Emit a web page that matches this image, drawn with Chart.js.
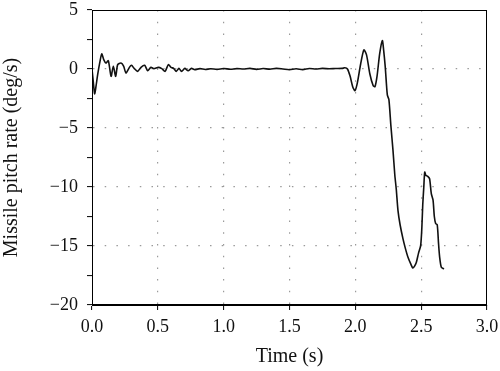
<!DOCTYPE html>
<html><head><meta charset="utf-8">
<script src="https://cdn.jsdelivr.net/npm/chart.js@4.4.1/dist/chart.umd.min.js"></script>
<style>html,body{margin:0;padding:0;background:#fff}canvas{display:block}</style>
</head><body>
<canvas id="c" width="500" height="371"></canvas>
<script>
// Time (s)
const timeS = [
  0, 0.01, 0.02, 0.03, 0.043, 0.06, 0.074, 0.089, 0.106, 0.124, 0.145, 0.162, 0.18, 0.195, 0.22, 0.24, 0.258,
  0.284, 0.30, 0.32, 0.347, 0.372, 0.40, 0.423, 0.448, 0.47, 0.504, 0.53, 0.555, 0.58, 0.60, 0.62, 0.64,
  0.66, 0.68, 0.705, 0.73, 0.755, 0.78, 0.82, 0.86, 0.90, 0.95, 1.0, 1.05, 1.10, 1.15, 1.20, 1.25, 1.30,
  1.35, 1.40, 1.45, 1.50, 1.55, 1.60, 1.65, 1.70, 1.75, 1.80, 1.85, 1.90, 1.92, 1.94, 1.96, 1.98, 1.997,
  2.015, 2.04, 2.065, 2.085, 2.11, 2.135, 2.149, 2.165, 2.185, 2.205, 2.215, 2.227, 2.243, 2.255, 2.27,
  2.286, 2.30, 2.311, 2.324, 2.34, 2.362, 2.38, 2.40, 2.42, 2.437, 2.45, 2.463, 2.48, 2.496, 2.505, 2.512,
  2.52, 2.527, 2.535, 2.55, 2.564, 2.577, 2.59, 2.60, 2.61, 2.622, 2.632, 2.64, 2.653, 2.673
];
// Missile pitch rate (deg/s)
const pitchRate = [
  0, -1.1, -2.1, -1.5, -0.48, 0.6, 1.28, 0.8, 0.5, 0.7, -0.62, 0.23, -0.62, 0.37, 0.51, 0.25, -0.34,
  0.14, 0.31, 0.05, -0.2, 0.14, 0.31, -0.14, 0.14, 0.03, 0.14, 0.03, -0.2, 0.37, 0.14, 0.05, -0.2,
  0.05, -0.2, 0.05, -0.15, 0.05, -0.05, 0.03, -0.04, 0.02, -0.03, 0.04, -0.02, 0.03, 0.0, 0.05, -0.03, 0.04,
  -0.02, 0.05, 0.0, -0.06, 0.02, -0.05, 0.04, 0.0, 0.05, 0.02, 0.04, 0.05, 0.1, 0.0, -0.6, -1.5, -1.84,
  -1.2, 0.4, 1.62, 1.2, -0.4, -1.4, -1.5, -0.6, 1.3, 2.41, 1.6, 0.2, -2.2, -2.6, -4.8,
  -6.9, -9.0, -10.2, -12.0, -13.2, -14.4, -15.2, -15.96, -16.5, -16.87, -16.7, -16.4, -15.6, -14.97, -13.5, -11.5,
  -10.0, -8.73, -9.0, -9.1, -9.3, -10.57, -11.1, -12.5, -13.1, -13.2, -14.8, -15.9, -16.8, -16.95
];
const xTickValues = [0, 0.5, 1.0, 1.5, 2.0, 2.5, 3.0];
const yTickValues = [-20, -15, -10, -5, 0, 5];

const FONT = "'Liberation Serif', 'Times New Roman', serif";
const GRID = '#9a9a9a';

const framePlugin = {
  id: 'frame',
  afterDatasetsDraw(chart) {
    const a = chart.chartArea, ctx = chart.ctx;
    ctx.save();
    ctx.strokeStyle = '#000';
    ctx.lineWidth = 1;
    ctx.strokeRect(Math.round(a.left) + 0.5, Math.round(a.top) + 0.5, Math.round(a.right - a.left) - 1, Math.round(a.bottom - a.top) - 1);
    ctx.restore();
  }
};

new Chart(document.getElementById('c'), {
  type: 'line',
  data: {
    datasets: [{
      data: timeS.map((t, i) => ({ x: t, y: pitchRate[i] })),
      borderColor: '#111',
      borderWidth: 1.6,
      pointRadius: 0,
      tension: 0.25,
      fill: false
    }]
  },
  options: {
    responsive: false,
    animation: false,
    layout: { padding: 0 },
    plugins: { legend: { display: false }, tooltip: { enabled: false } },
    scales: {
      x: {
        type: 'linear', min: 0, max: 3,
        afterBuildTicks(s) { s.ticks = xTickValues.map(v => ({ value: v })); },
        afterFit(s) { s.height = 66; s.paddingLeft = 0; s.paddingRight = 13; },
        ticks: {
          autoSkip: false, maxRotation: 0, padding: 6, color: '#111',
          font: { family: FONT, size: 18 },
          callback: v => Number(v).toFixed(1)
        },
        grid: {
          color: c => (c.tick && (c.tick.value === 0 || c.tick.value === 3)) ? 'rgba(0,0,0,0)' : GRID,
          lineWidth: 1.2, tickColor: '#000', tickLength: 5, tickWidth: 1
        },
        border: { color: '#000', width: 1, dash: [1.5, 10.2] },
        title: { display: true, text: 'Time (s)', color: '#111', font: { family: FONT, size: 20 }, padding: { top: 0, bottom: 2 } }
      },
      y: {
        type: 'linear', min: -20, max: 5,
        afterBuildTicks(s) {
          const t = [];
          for (let v = -20; v <= 5.001; v += 2.5) t.push({ value: v });
          s.ticks = t;
        },
        afterFit(s) { s.width = 92; s.paddingTop = 10; s.paddingBottom = 0; },
        ticks: {
          autoSkip: false, padding: 9, color: '#111',
          font: { family: FONT, size: 18 },
          callback: v => yTickValues.includes(v) ? (v < 0 ? '\u2212' + Math.abs(v) : String(v)) : ''
        },
        grid: {
          color: c => (c.tick && yTickValues.includes(c.tick.value) && c.tick.value !== -20 && c.tick.value !== 5) ? GRID : 'rgba(0,0,0,0)',
          lineWidth: 1.2, tickColor: '#000', tickLength: 5, tickWidth: 1
        },
        border: { color: '#000', width: 1, dash: [1.5, 10.2] },
        title: { display: true, text: 'Missile pitch rate (deg/s)', color: '#111', font: { family: FONT, size: 20 }, padding: { top: 0, bottom: 0 } }
      }
    }
  },
  plugins: [framePlugin]
});
</script>
</body></html>
